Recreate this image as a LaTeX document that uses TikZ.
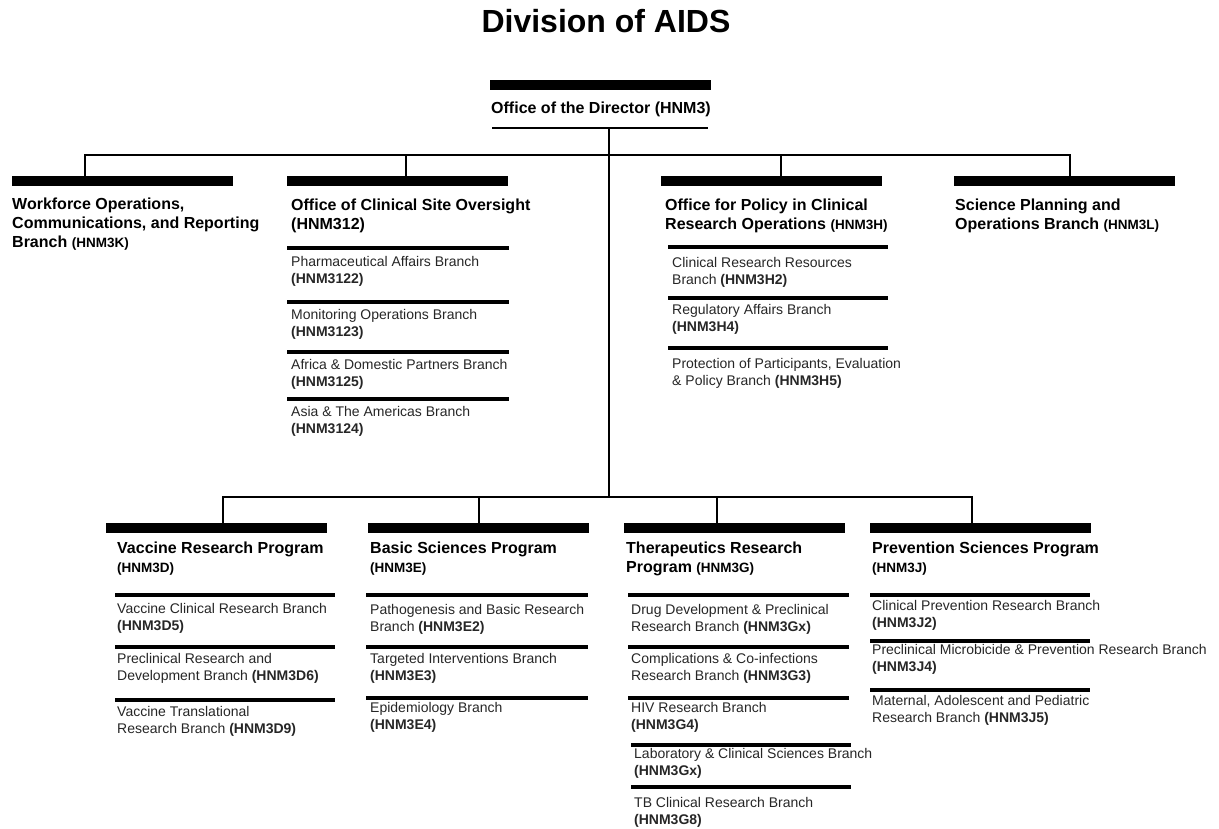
\documentclass[tikz,border=0pt]{standalone}
\usepackage{fontspec}
\setmainfont{Liberation Sans}
\usepackage{tikz}

\newcommand{\titlefnt}{\fontsize{32}{36}\selectfont\bfseries}
\newcommand{\headfnt}{\fontsize{16}{19}\selectfont\bfseries}
\newcommand{\subfnt}{\fontsize{14}{17.5}\selectfont}
\newcommand{\hcode}[1]{{\fontsize{13.5}{19}\selectfont #1}}
\newcommand{\bcode}[1]{\textbf{#1}}

\tikzset{
  bar/.style={fill=black, inner sep=0pt, minimum height=10, minimum width=221, anchor=north west},
  head/.style={anchor=north west, inner sep=0pt, align=left, font=\headfnt},
  sub/.style={anchor=north west, inner sep=0pt, align=left, font=\subfnt, text=black!85},
  link/.style={line width=2.6pt, line join=miter},
  rule/.style={line width=3.4pt}
}

\begin{document}
\begin{tikzpicture}[x=1pt,y=-1pt]
    \useasboundingbox (0,0) rectangle (1219,829);
    \node[font=\titlefnt, anchor=base] (title) at (606,33) {Division of AIDS};

    % director
    \node[bar] (dir) at (490,80) {};
    \node[head] (dirt) at (491,102) {Office of the Director (HNM3)};
    \draw[line width=2.8pt] (492,128) -- (708,128);
    \coordinate (hub) at (609,128);
    \coordinate (top) at (609,155);
    \coordinate (bot) at (609,497);
    \draw[link] (hub) -- (bot);

    % upper row
    \node[bar] (wf)   at (12,176)  {};
    \node[bar] (ocso) at (287,176) {};
    \node[bar] (opcr) at (661,176) {};
    \node[bar] (spob) at (954,176) {};
    \foreach \n/\dx in {wf/73, ocso/119, opcr/120, spob/116}
      \draw[link] ([xshift=\dx]\n.north west) |- (top);

    \node[head] (wft) at (12,198) {Workforce Operations,\\Communications, and Reporting\\Branch \hcode{(HNM3K)}};
    \node[head] (ocsot) at (291,199) {Office of Clinical Site Oversight\\(HNM312)};
    \node[head] (opcrt) at (665,199) {Office for Policy in Clinical\\Research Operations \hcode{(HNM3H)}};
    \node[head] (spobt) at (955,199) {Science Planning and\\Operations Branch \hcode{(HNM3L)}};

    \foreach \y in {248,302,352,399}
      \draw[rule] (287,\y) -- (509,\y);
    \node[sub] (pab) at (291,256) {Pharmaceutical Affairs Branch\\\bcode{(HNM3122)}};
    \node[sub] (mob) at (291,309) {Monitoring Operations Branch\\\bcode{(HNM3123)}};
    \node[sub] (adp) at (291,359) {Africa \& Domestic Partners Branch\\\bcode{(HNM3125)}};
    \node[sub] (ata) at (291,406) {Asia \& The Americas Branch\\\bcode{(HNM3124)}};

    \foreach \y in {247,298,348}
      \draw[rule] (668,\y) -- (888,\y);
    \node[sub] (crr) at (672,257) {Clinical Research Resources\\Branch \bcode{(HNM3H2)}};
    \node[sub] (rab) at (672,304) {Regulatory Affairs Branch\\\bcode{(HNM3H4)}};
    \node[sub] (ppe) at (672,358) {Protection of Participants, Evaluation\\\& Policy Branch \bcode{(HNM3H5)}};

    % lower row
    \node[bar] (vrp) at (106,523) {};
    \node[bar] (bsp) at (368,523) {};
    \node[bar] (trp) at (624,523) {};
    \node[bar] (psp) at (870,523) {};
    \foreach \n/\dx in {vrp/117, bsp/111, trp/93, psp/102}
      \draw[link] ([xshift=\dx]\n.north west) |- (bot);

    \node[head] (vrpt) at (117,542) {Vaccine Research Program\\\hcode{(HNM3D)}};
    \node[head] (bspt) at (370,542) {Basic Sciences Program\\\hcode{(HNM3E)}};
    \node[head] (trpt) at (626,542) {Therapeutics Research\\Program \hcode{(HNM3G)}};
    \node[head] (pspt) at (872,542) {Prevention Sciences Program\\\hcode{(HNM3J)}};

    \foreach \y in {595,647,700}
      \draw[rule] (115,\y) -- (335,\y);
    \node[sub] (vcr) at (117,603) {Vaccine Clinical Research Branch\\\bcode{(HNM3D5)}};
    \node[sub] (prd) at (117,653) {Preclinical Research and\\Development Branch \bcode{(HNM3D6)}};
    \node[sub] (vtr) at (117,706) {Vaccine Translational\\Research Branch \bcode{(HNM3D9)}};

    \foreach \y in {595,647,698}
      \draw[rule] (366,\y) -- (588,\y);
    \node[sub] (pbr) at (370,604) {Pathogenesis and Basic Research\\Branch \bcode{(HNM3E2)}};
    \node[sub] (tib) at (370,653) {Targeted Interventions Branch\\\bcode{(HNM3E3)}};
    \node[sub] (epi) at (370,702) {Epidemiology Branch\\\bcode{(HNM3E4)}};

    \foreach \y in {595,647,698}
      \draw[rule] (628,\y) -- (849,\y);
    \foreach \y in {745,787}
      \draw[rule] (631,\y) -- (851,\y);
    \node[sub] (ddp) at (631,604) {Drug Development \& Preclinical\\Research Branch \bcode{(HNM3Gx)}};
    \node[sub] (cci) at (631,653) {Complications \& Co-infections\\Research Branch \bcode{(HNM3G3)}};
    \node[sub] (hiv) at (631,702) {HIV Research Branch\\\bcode{(HNM3G4)}};
    \node[sub] (lcs) at (634,748) {Laboratory \& Clinical Sciences Branch\\\bcode{(HNM3Gx)}};
    \node[sub] (tbc) at (634,797) {TB Clinical Research Branch\\\bcode{(HNM3G8)}};

    \foreach \y in {595,641,690}
      \draw[rule] (870,\y) -- (1090,\y);
    \node[sub] (cpr) at (872,600) {Clinical Prevention Research Branch\\\bcode{(HNM3J2)}};
    \node[sub] (pmp) at (872,644) {Preclinical Microbicide \& Prevention Research Branch\\\bcode{(HNM3J4)}};
    \node[sub] (map) at (872,695) {Maternal, Adolescent and Pediatric\\Research Branch \bcode{(HNM3J5)}};
\end{tikzpicture}
\end{document}
